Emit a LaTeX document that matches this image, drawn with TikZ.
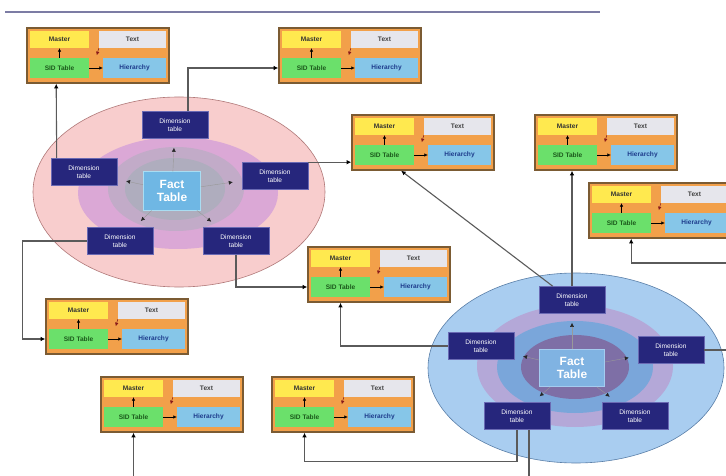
\documentclass[tikz,border=0pt]{standalone}
\usepackage{fontspec}
\setmainfont{Liberation Sans}
\usepackage{tikz}
\usetikzlibrary{arrows.meta,calc,shapes.geometric}
\definecolor{RuleBlue}{HTML}{7C7CA4}
\definecolor{FrameBrown}{HTML}{7B5B33}
\definecolor{BandOrange}{HTML}{F2A04A}
\definecolor{MasterYellow}{HTML}{FFE94F}
\definecolor{TextGray}{HTML}{E6E6EC}
\definecolor{SidGreen}{HTML}{6BE06B}
\definecolor{HierBlue}{HTML}{86C6E8}
\definecolor{SidText}{HTML}{1C5A1C}
\definecolor{HierText}{HTML}{1E3C8C}
\definecolor{ArrowRed}{HTML}{8A1A1A}
\definecolor{LineGray}{HTML}{5A5A5A}
\definecolor{DimNavy}{HTML}{26267C}
\definecolor{DimEdge}{HTML}{6A6AB4}
\definecolor{PinkOuter}{HTML}{F8CDCD}
\definecolor{PinkEdge}{HTML}{B07878}
\definecolor{PinkMauve}{HTML}{DBA8D6}
\definecolor{PinkCore}{HTML}{A4AEB8}
\definecolor{BlueOuter}{HTML}{A9CDF0}
\definecolor{BlueEdge}{HTML}{5A7FA8}
\definecolor{BlueLav}{HTML}{B4A8D8}
\definecolor{BlueMid}{HTML}{7AA6DA}
\definecolor{BlueCore}{HTML}{7E6FA6}
\definecolor{FactA}{HTML}{6FB7E4}
\definecolor{FactAEdge}{HTML}{A9DDF2}
\definecolor{FactB}{HTML}{80B3E2}
\definecolor{FactBEdge}{HTML}{A4CCF0}
\tikzset{
  % Group frame
  GB/.style={rectangle,draw=FrameBrown,line width=1.6pt,fill=BandOrange,
             minimum width=142bp,minimum height=55bp,inner sep=0pt},
  % Cells
  CL/.style={rectangle,inner sep=0pt,minimum height=17bp,
             font=\fontsize{6.6}{7.4}\selectfont\bfseries},
  cM/.style={CL,fill=MasterYellow,minimum width=59bp,text=black!80},
  cT/.style={CL,fill=TextGray,minimum width=67bp,text=black!75},
  cS/.style={CL,fill=SidGreen,minimum width=59bp,minimum height=20bp,text=SidText},
  cH/.style={CL,fill=HierBlue,minimum width=63bp,minimum height=20bp,text=HierText},
  % Dimension and fact boxes
  DT/.style={rectangle,fill=DimNavy,draw=DimEdge,line width=0.6pt,
             minimum width=66bp,minimum height=27bp,inner sep=0pt,align=center,
             text=white,font=\fontsize{6.6}{7.6}\selectfont},
  FT/.style={rectangle,line width=1pt,inner sep=0pt,align=center,text=white,
             font=\fontsize{12}{13}\selectfont\bfseries},
  % Arrows
  arr/.style={draw=LineGray,line width=1.1pt,-{Latex[length=4.5pt,width=4.5pt,color=black]}},
  ln/.style={draw=LineGray,line width=1.1pt},
  spk/.style={draw=black!40,line width=0.4pt,-{Latex[length=4pt,width=4pt,color=black!85]},shorten >=9bp},
  tk/.style={line width=0.5pt,-{Latex[length=3.5pt,width=3.5pt]}}
}
% one master/text/SID/hierarchy group: name, left, top
\newcommand{\tblgroup}[3]{%
  \node[GB] (#1) at (#2+71,#3+27.5) {};
  \node[cM] (#1-m) at (#2+32.5,#3+11.5) {Master};
  \node[cT] (#1-t) at (#2+105.5,#3+11.5) {Text};
  \node[cS] (#1-s) at (#2+32.5,#3+40) {SID Table};
  \node[cH] (#1-h) at (#2+107.5,#3+40) {Hierarchy};
  \draw[tk] (#1-s) -- (#1-m);
  \draw[tk] (#1-s) -- (#1-h);
  \draw[tk,draw=ArrowRed] (#1-t.south west) -- ++(-2,7);
}

\begin{document}
\begin{tikzpicture}[x=1bp,y=-1bp]
  \fill[white] (0,0) rectangle (726,476);
  \useasboundingbox (0,0) rectangle (726,476);
  \draw[RuleBlue,line width=1.3pt] (5,12) -- (600,12);

  % pink star
  \filldraw[fill=PinkOuter,draw=PinkEdge,line width=0.6pt] (179,192) ellipse [x radius=146bp,y radius=95bp];
  \fill[PinkMauve] (178,193) ellipse [x radius=100bp,y radius=56bp];
  \fill[PinkCore!45!PinkMauve] (176,189) ellipse [x radius=68bp,y radius=42bp];
  \fill[PinkCore!80!PinkMauve] (175,189) ellipse [x radius=50bp,y radius=31bp];

  % blue star
  \filldraw[fill=BlueOuter,draw=BlueEdge,line width=0.6pt] (576,368) ellipse [x radius=148bp,y radius=95bp];
  \fill[BlueLav] (575,366) ellipse [x radius=98bp,y radius=61bp];
  \fill[BlueMid] (575,367) ellipse [x radius=78bp,y radius=46bp];
  \fill[BlueCore] (575,367) ellipse [x radius=54bp,y radius=32bp];

  \node[FT,fill=FactA,draw=FactAEdge,minimum width=57bp,minimum height=38bp] (pF) at (172,191) {Fact\\Table};
  \node[DT] (pdT)  at (175,125) {Dimension\\table};
  \node[DT] (pdL)  at (84,172)  {Dimension\\table};
  \node[DT] (pdR)  at (275,176) {Dimension\\table};
  \node[DT] (pdBL) at (120,241) {Dimension\\table};
  \node[DT] (pdBR) at (236,241) {Dimension\\table};

  \node[FT,fill=FactB,draw=FactBEdge,minimum width=65bp,minimum height=37bp] (bF) at (572,368) {Fact\\Table};
  \node[DT] (bdT)  at (572,300) {Dimension\\table};
  \node[DT] (bdL)  at (481,346) {Dimension\\table};
  \node[DT] (bdR)  at (671,350) {Dimension\\table};
  \node[DT] (bdBL) at (517,416) {Dimension\\table};
  \node[DT] (bdBR) at (635,416) {Dimension\\table};

  \foreach \d in {pdT,pdL,pdR,pdBL,pdBR} \draw[spk] (pF) -- (\d);
  \foreach \d in {bdT,bdL,bdR,bdBL,bdBR} \draw[spk] (bF) -- (\d);

  \tblgroup{g1}{27}{28}
  \tblgroup{g2}{279}{28}
  \tblgroup{g3}{352}{115}
  \tblgroup{g4}{535}{115}
  \tblgroup{g5}{589}{183}
  \tblgroup{g6}{308}{247}
  \tblgroup{g7}{46}{299}
  \tblgroup{g8}{101}{377}
  \tblgroup{g9}{272}{377}

  \coordinate (eR1) at (726,263);
  \coordinate (eR2) at (726,350);
  \coordinate (eB1) at (133.5,476);
  \coordinate (eB2) at (529,476);

  \draw[arr] ($(pdL.north west)+(6,0)$) -- ($(g1.south west)+(30,0)$);
  \draw[arr] ($(pdT.north)+(13,0)$) |- (g2.west |- g2-s);
  \draw[arr] (pdR.north east) -- (g3.west |- pdR.north east);
  \draw[arr] (pdBL.west) -- ++(-64,0) |- (g7.west |- g7-s);
  \draw[arr] (pdBR.south) |- (g6.west |- g6-s);
  \draw[arr] ($(bdT.north west)+(14,0)$) -- ($(g3.south west)+(50,0)$);
  \draw[arr] (bdT.north) -- (bdT.north |- g4.south);
  \draw[arr] (eR1) -| ($(g5.south west)+(43,0)$);
  \draw[ln]  (bdR.east) -- (eR2);
  \draw[arr] (bdL.west) -| (g6-s.south |- g6.south);
  \draw[arr] (bdBL.south) -- ++(0,32) -| (g9-s.south |- g9.south);
  \draw[ln]  (bdBL.south -| eB2) -- (eB2);
  \draw[arr] (eB1) -- (eB1 |- g8.south);
\end{tikzpicture}
\end{document}
